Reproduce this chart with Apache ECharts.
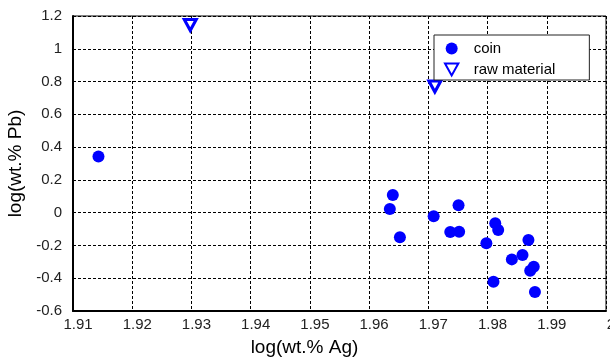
<!DOCTYPE html>
<html>
<head>
<meta charset="utf-8">
<script src="https://cdn.jsdelivr.net/npm/echarts@6/dist/echarts.min.js"></script>
<style>html,body{margin:0;padding:0;background:#fff}#c{width:610px;height:358px}</style>
</head>
<body>
<div id="c"></div>
<script>
var coinAg = [1.9143, 1.9640, 1.9635, 1.9652, 1.9709, 1.9751, 1.9737, 1.9752, 1.9813, 1.9818, 1.9798, 1.9869, 1.9841, 1.9859, 1.9878, 1.9872, 1.9810, 1.9880];
var coinPb = [0.342, 0.108, 0.022, -0.150, -0.022, 0.045, -0.118, -0.116, -0.065, -0.106, -0.187, -0.167, -0.285, -0.258, -0.330, -0.354, -0.421, -0.484];
var rawAg = [1.9298, 1.9711];
var rawPb = [1.145, 0.770];
var seriesNames = ['coin', 'raw material'];
var xAxisTitle = 'log(wt.% Ag)';
var yAxisTitle = 'log(wt.% Pb)';

function zip(a, b) { return a.map(function (v, i) { return [v, b[i]]; }); }
function fmt(v) { return String(Number(v.toFixed(2))); }

var font = 'Liberation Sans, Arial, sans-serif';
var chart = echarts.init(document.getElementById('c'), null, { renderer: 'canvas' });
chart.setOption({
  animation: false,
  backgroundColor: '#fff',
  grid: { left: 73, right: 4, top: 16, bottom: 47, show: true, borderColor: '#000', borderWidth: 1, backgroundColor: 'transparent', containLabel: false, outerBoundsMode: 'none' },
  legend: {
    left: 434, top: 35, orient: 'vertical',
    borderColor: '#222', borderWidth: 1, backgroundColor: '#fff',
    padding: [6, 34, 3, 10], itemGap: 6, itemWidth: 14, itemHeight: 12,
    textStyle: { fontFamily: font, fontSize: 15, color: '#000', padding: [0, 0, 0, 10] },
    data: seriesNames
  },
  xAxis: {
    type: 'value', min: 1.91, max: 2.0, interval: 0.01,
    name: xAxisTitle, nameLocation: 'middle', nameGap: 27,
    nameTextStyle: { fontFamily: font, fontSize: 19, color: '#000', padding: [0, 70, 0, 0] },
    axisLine: { show: true, onZero: false, lineStyle: { color: '#000', width: 2 } },
    axisTick: { show: false },
    axisLabel: { fontFamily: font, fontSize: 15, color: '#222', margin: 6, padding: [0, 0, 0, 10], formatter: fmt },
    splitLine: { show: true, lineStyle: { color: '#000', type: [3, 2], width: 1 } }
  },
  yAxis: {
    type: 'value', min: -0.6, max: 1.2, interval: 0.2,
    name: yAxisTitle, nameLocation: 'middle', nameGap: 34, nameRotate: 90,
    nameTextStyle: { fontFamily: font, fontSize: 19, color: '#000' },
    axisLine: { show: true, onZero: false, lineStyle: { color: '#000', width: 2 } },
    axisTick: { show: false },
    axisLabel: { fontFamily: font, fontSize: 15, color: '#222', margin: 11, padding: [8, 0, 0, 0], formatter: fmt },
    splitLine: { show: true, lineStyle: { color: '#000', type: [3, 2], width: 1 } }
  },
  series: [
    {
      name: seriesNames[0], type: 'scatter', symbol: 'circle', symbolSize: 12,
      itemStyle: { color: '#0000ff', opacity: 1 },
      data: zip(coinAg, coinPb), z: 3
    },
    {
      name: seriesNames[1], type: 'scatter', symbol: 'path://M0,0 L10,0 L5,9 Z', symbolSize: [12, 11],
      itemStyle: { color: '#fff', borderColor: '#0000ff', borderWidth: 3, opacity: 1 },
      data: zip(rawAg, rawPb), z: 3
    }
  ]
});
</script>
</body>
</html>
